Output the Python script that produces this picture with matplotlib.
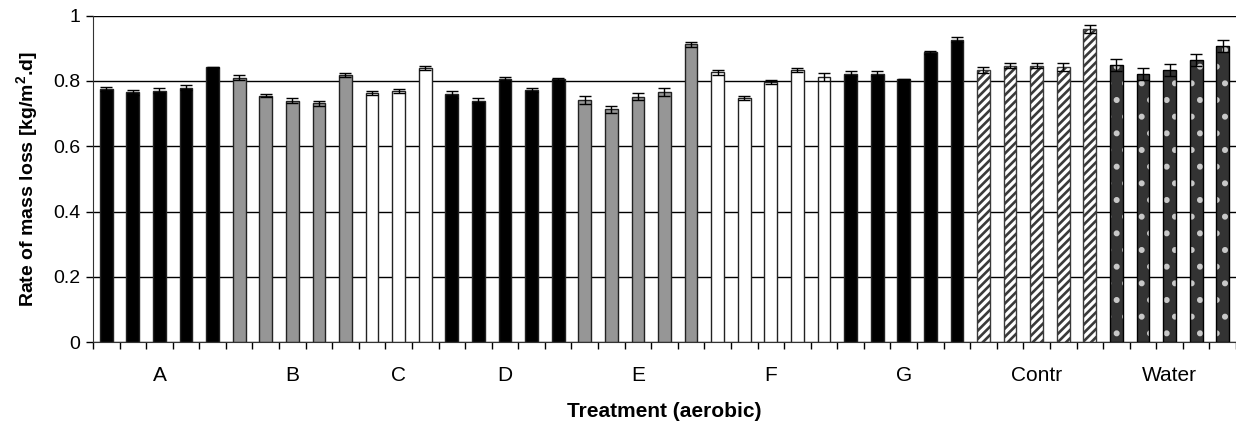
import numpy as np
import matplotlib
matplotlib.use("Agg")
from matplotlib import pyplot as plt

plt.rcParams['font.family'] = ['Liberation Sans', 'DejaVu Sans']
plt.rcParams['mathtext.fontset'] = 'custom'
plt.rcParams['mathtext.rm'] = 'Liberation Sans'
plt.rcParams['mathtext.bf'] = 'Liberation Sans:bold'
plt.rcParams['hatch.linewidth'] = 1.9

# treatments and number of bars in each
groups = ["A", "B", "C", "D", "E", "F", "G", "Contr", "Water"]
group_sizes = [5, 5, 3, 5, 5, 5, 5, 5, 5]

rate = [0.775, 0.765, 0.770, 0.779, 0.842,
        0.810, 0.755, 0.740, 0.731, 0.818,
        0.762, 0.769, 0.840,
        0.759, 0.740, 0.805, 0.772, 0.806,
        0.742, 0.713, 0.752, 0.766, 0.912,
        0.826, 0.749, 0.797, 0.832, 0.813,
        0.822, 0.822, 0.805, 0.888, 0.926,
        0.834, 0.846, 0.846, 0.843, 0.959,
        0.849, 0.820, 0.833, 0.863, 0.906]
err = [0.007, 0.008, 0.007, 0.008, 0.002,
       0.008, 0.005, 0.009, 0.008, 0.006,
       0.006, 0.007, 0.006,
       0.011, 0.007, 0.006, 0.006, 0.002,
       0.013, 0.011, 0.011, 0.011, 0.007,
       0.008, 0.006, 0.005, 0.006, 0.012,
       0.007, 0.007, 0.002, 0.005, 0.007,
       0.009, 0.008, 0.008, 0.013, 0.013,
       0.019, 0.018, 0.018, 0.018, 0.019]

fills = {"A": "black", "D": "black", "G": "black",
         "B": "#969696", "E": "#969696",
         "C": "white", "F": "white",
         "Contr": "white", "Water": "#333333"}

fig = plt.figure(figsize=(12.36, 4.26), dpi=100)
ax = fig.add_axes([0.0752, 0.1965, 0.9248, 0.767])

x = np.arange(len(rate))
start = 0
mids = []
for g, n in zip(groups, group_sizes):
    xs = x[start:start + n]
    vals = rate[start:start + n]
    if g == "Water":
        # light dots on dark fill, then black outline on top
        ax.bar(xs, vals, width=0.48, color=fills[g], edgecolor="#c8c8c8",
               hatch=".", linewidth=0, zorder=2)
        ax.bar(xs, vals, width=0.48, fill=False, edgecolor="black",
               linewidth=1.0, zorder=3)
    elif g == "Contr":
        ax.bar(xs, vals, width=0.48, color=fills[g], edgecolor="#3a3a3a",
               hatch="////", linewidth=1.0, zorder=2)
    else:
        ax.bar(xs, vals, width=0.48, color=fills[g], edgecolor="#222222",
               linewidth=1.0, zorder=2)
    mids.append(xs[n // 2])
    start += n

ax.errorbar(x, rate, yerr=err, fmt="none", ecolor="black", elinewidth=1.0,
            capsize=4.3, capthick=1.0, zorder=4)

ax.set_xlim(-0.5, len(rate) - 0.5)
ax.set_ylim(0, 1)
ax.set_yticks([0, 0.2, 0.4, 0.6, 0.8, 1.0])
ax.set_yticklabels(["0", "0.2", "0.4", "0.6", "0.8", "1"])
ax.yaxis.grid(True, color="black", linewidth=1.0, zorder=0)
ax.set_axisbelow(True)

ax.set_xticks(np.arange(-0.5, len(rate), 1.0))
ax.set_xticklabels([])
ax.set_xticks(mids, minor=True)
ax.set_xticklabels(groups, minor=True)
ax.tick_params(axis="x", which="major", direction="out", length=5, width=1)
ax.tick_params(axis="x", which="minor", length=0, pad=17, labelsize=15)
ax.tick_params(axis="y", direction="out", length=5, width=1, labelsize=14, pad=4)

for s in ["top", "right"]:
    ax.spines[s].set_visible(False)
ax.spines["left"].set_color("#333333")
ax.spines["bottom"].set_color("#333333")

ax.set_ylabel(r"Rate of mass loss [kg/m$^\mathbf{2}$.d]", fontsize=14,
              fontweight="bold", labelpad=9)
ax.set_xlabel("Treatment (aerobic)", fontsize=15, fontweight="bold", labelpad=12)

fig.savefig("out.png", dpi=100)
